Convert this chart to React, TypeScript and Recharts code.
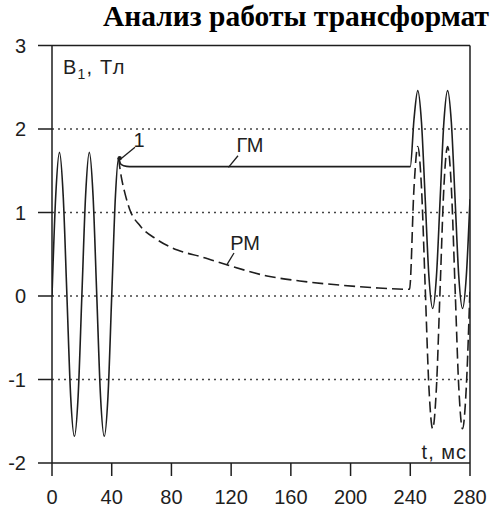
import React from 'react';
import { LineChart, Line, XAxis, YAxis, ReferenceLine, ReferenceDot } from 'recharts';

const xTicks = [0, 40, 80, 120, 160, 200, 240, 280];
const yTicks = [-2, -1, 0, 1, 2, 3];
const gridLevels = [2, 1, 0, -1];

// ГМ – solid curve, t in ms, B1 in T
const gmTime = [0, 2.5, 5, 7.5, 10, 12.5, 15, 17.5, 20, 22.5, 25, 27.5, 30, 32.5, 35, 37.5, 40, 42.5, 44.5, 46, 48, 52, 240,
  242.5, 245, 247.5, 250, 252.5, 255, 257.5, 260, 262.5, 265, 267.5, 270, 272.5, 275, 277.5, 280];
const gmB = [0, 1.2, 1.72, 1.2, 0, -1.2, -1.68, -1.2, 0, 1.2, 1.72, 1.2, 0, -1.2, -1.68, -1.2, 0, 1.2, 1.65, 1.58, 1.56, 1.55, 1.55,
  2.12, 2.46, 2.08, 1.16, 0.23, -0.15, 0.23, 1.16, 2.08, 2.46, 2.08, 1.16, 0.23, -0.15, 0.23, 1.16];

// РМ – dashed curve
const rmTime = [44.5, 46.7, 49, 52, 59, 70, 84, 100, 116, 144, 166, 193, 215, 239.5,
  242.5, 245, 247.5, 250, 252.5, 255, 257.5, 260, 262.5, 265, 267.5, 270, 272.5, 275, 277.5, 280];
const rmB = [1.65, 1.4, 1.22, 1.04, 0.84, 0.68, 0.55, 0.47, 0.38, 0.24, 0.18, 0.13, 0.1, 0.08,
  1.3, 1.79, 1.3, 0.1, -1.1, -1.59, -1.1, 0.1, 1.3, 1.79, 1.3, 0.1, -1.1, -1.59, -1.1, 0.1];

const gmData = gmTime.map((t, i) => ({ t, b: gmB[i] }));
const rmData = rmTime.map((t, i) => ({ t, b: rmB[i] }));

const ink = '#1e1e1e';
const sans = '"Liberation Sans", Arial, sans-serif';

const textAt = (label: React.ReactNode, anchor: 'start' | 'middle' | 'end' = 'middle', spacing = 0) => (p: any) => (
  <text x={p.cx} y={p.cy} dy="0.35em" textAnchor={anchor} fill={ink} fontSize={20} fontFamily={sans} letterSpacing={spacing}>
    {label}
  </text>
);

export default function App() {
  return (
    <div style={{ position: 'absolute', left: 0, top: 0, width: 490, height: 510, background: '#fff', overflow: 'hidden' }}>
      <LineChart width={490} height={510} margin={{ top: 45.5, right: 20, bottom: 0, left: 12 }}>
        {gridLevels.map((v) => (
          <ReferenceLine key={v} y={v} stroke="#444" strokeDasharray="2 4" strokeWidth={1.3} />
        ))}
        <ReferenceLine y={3} stroke={ink} strokeWidth={1.5} />
        <ReferenceLine x={280} stroke={ink} strokeWidth={1.5} />
        <XAxis
          type="number"
          dataKey="t"
          domain={[0, 280]}
          ticks={xTicks}
          interval={0}
          allowDataOverflow
          height={47}
          tickSize={13}
          tickMargin={14}
          axisLine={{ stroke: ink, strokeWidth: 1.5 }}
          tickLine={{ stroke: ink, strokeWidth: 1.5 }}
          tick={{ fill: ink, fontSize: 20, fontFamily: sans }}
        />
        <YAxis
          type="number"
          domain={[-2, 3]}
          ticks={yTicks}
          interval={0}
          allowDataOverflow
          width={40}
          tickSize={14}
          tickMargin={12}
          axisLine={{ stroke: ink, strokeWidth: 1.5 }}
          tickLine={{ stroke: ink, strokeWidth: 1.5 }}
          tick={{ fill: ink, fontSize: 20, fontFamily: sans }}
        />
        <Line data={gmData} dataKey="b" type="monotone" stroke={ink} strokeWidth={1.6} dot={false} isAnimationActive={false} />
        <Line data={rmData} dataKey="b" type="monotone" stroke={ink} strokeWidth={1.6} strokeDasharray="11 5" dot={false} isAnimationActive={false} />

        {/* leaders */}
        <ReferenceLine segment={[{ x: 55.6, y: 1.78 }, { x: 46, y: 1.64 }]} stroke={ink} strokeWidth={1.3} />
        <ReferenceLine segment={[{ x: 124.6, y: 1.68 }, { x: 118.2, y: 1.54 }]} stroke={ink} strokeWidth={1.3} />
        <ReferenceLine segment={[{ x: 121.9, y: 0.515 }, { x: 117, y: 0.37 }]} stroke={ink} strokeWidth={1.3} />
        <ReferenceDot x={45.3} y={1.65} r={2.2} fill={ink} stroke="none" />

        <ReferenceDot x={58.3} y={1.87} r={0} shape={textAt('1')} />
        <ReferenceDot x={132.6} y={1.81} r={0} shape={textAt('ГМ')} />
        <ReferenceDot x={129.3} y={0.635} r={0} shape={textAt('РМ')} />
        <ReferenceDot
          x={7.4}
          y={2.74}
          r={0}
          shape={textAt(
            <>
              <tspan>B</tspan>
              <tspan dy={5} fontSize={14}>1</tspan>
              <tspan dy={-5}>,  Тл</tspan>
            </>,
            'start',
            1.2
          )}
        />
        <ReferenceDot x={278} y={-1.87} r={0} shape={textAt('t,  мс', 'end', 1)} />
      </LineChart>
      <div
        style={{
          position: 'absolute',
          left: 103,
          top: 2,
          whiteSpace: 'nowrap',
          fontFamily: '"Liberation Serif", "Times New Roman", serif',
          fontWeight: 'bold',
          fontSize: 29.5,
          lineHeight: 1,
          color: '#000',
        }}
      >
        Анализ работы трансформат
      </div>
    </div>
  );
}
